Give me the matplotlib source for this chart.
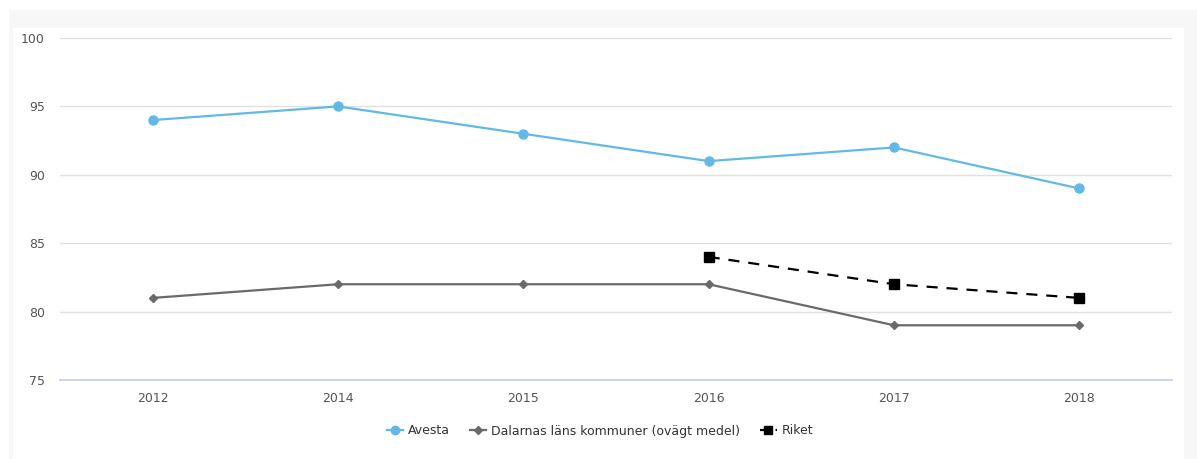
import matplotlib.pyplot as plt
from matplotlib.patches import Rectangle
from matplotlib.lines import Line2D

years = ["2012", "2014", "2015", "2016", "2017", "2018"]
avesta = [94, 95, 93, 91, 92, 89]
dalarna = [81, 82, 82, 82, 79, 79]
riket = [None, None, None, 84, 82, 81]

W, H = 1197, 459
fig = plt.figure(figsize=(W / 100, H / 100), dpi=100)
fig.patch.set_facecolor("white")

# grey frame with white inner panel
fig.patches.append(Rectangle((9 / W, 0), (1197 - 9) / W, (H - 10) / H,
                             transform=fig.transFigure, facecolor="#f7f7f7",
                             edgecolor="none", zorder=-2))
fig.patches.append(Rectangle((13 / W, 0), (1184 - 13) / W, (H - 28) / H,
                             transform=fig.transFigure, facecolor="white",
                             edgecolor="none", zorder=-1))

ax = fig.add_axes([60 / W, 1 - 380 / H, (1172 - 60) / W, (380 - 38) / H])
ax.set_facecolor("none")
ax.set_zorder(2)

x = list(range(len(years)))
ax.plot(x, avesta, color="#62b9e6", lw=1.6, marker="o", ms=6.5, label="Avesta", zorder=3)
ax.plot(x, dalarna, color="#6a6a6a", lw=1.6, marker="D", ms=4.5,
        label="Dalarnas läns kommuner (ovägt medel)", zorder=3)
rx = [i for i, v in zip(x, riket) if v is not None]
ry = [v for v in riket if v is not None]
ax.plot(rx, ry, color="black", lw=1.6, ls=(0, (5, 4)), marker="s", ms=6.5,
        label="Riket", zorder=3)

ax.set_xlim(-0.5, len(years) - 0.5)
ax.set_ylim(75, 100)
ax.set_yticks([75, 80, 85, 90, 95, 100])
ax.set_xticks(x)
ax.set_xticklabels(years)
ax.grid(axis="y", color="#e0e0e0", lw=1)
ax.set_axisbelow(True)
for s in ["top", "right", "left"]:
    ax.spines[s].set_visible(False)
ax.spines["bottom"].set_color("#ccd6eb")
ax.spines["bottom"].set_linewidth(1.5)
ax.tick_params(axis="both", length=0, labelsize=9, colors="#555555")
ax.tick_params(axis="x", pad=9)
ax.tick_params(axis="y", pad=11)

handles = [
    Line2D([], [], color="#62b9e6", lw=1.6, marker="o", ms=6),
    Line2D([], [], color="#6a6a6a", lw=1.6, marker="D", ms=4.5),
    Line2D([], [], color="black", lw=1.6, ls=(0, (2, 1.5)), marker="s", ms=6),
]
leg = fig.legend(handles, ["Avesta", "Dalarnas läns kommuner (ovägt medel)", "Riket"],
                 loc="center", bbox_to_anchor=(600 / W, 1 - 431 / H), ncol=3,
                 frameon=False, fontsize=9, handlelength=1.3, handletextpad=0.4,
                 columnspacing=1.6)
for t in leg.get_texts():
    t.set_color("#333333")

fig.savefig("out.png", dpi=100)
